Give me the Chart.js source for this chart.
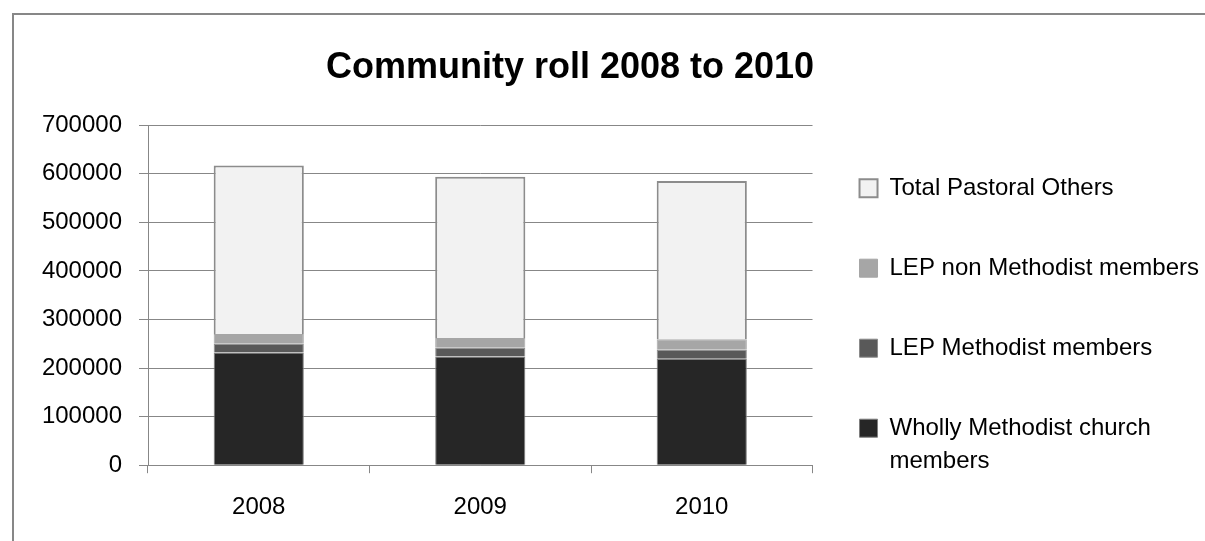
<!DOCTYPE html>
<html>
<head>
<meta charset="utf-8">
<script src="https://cdn.jsdelivr.net/npm/chart.js@4/dist/chart.umd.min.js"></script>
<style>
    html, body { margin: 0; padding: 0; background: #fff; overflow: hidden; }
    #frame {
        position: absolute; left: 12px; top: 13px; width: 1300px; height: 600px;
        border-left: 2px solid #878787; border-top: 2px solid #878787;
    }
    #wrap { position: absolute; left: -58px; top: 0; width: 1263px; height: 541px; }
</style>
</head>
<body>
<div id="frame"></div>
<div id="wrap"><canvas id="roll_chart"></canvas></div>
<script>
    // values
    var years = ["2008", "2009", "2010"];
    var wholly_methodist = [232000, 224000, 219000];
    var lep_methodist = [18000, 18000, 18500];
    var lep_non_methodist = [20000, 20000, 22000];
    var pastoral_others = [347000, 332000, 325500];

    var series_names = [
        ["Wholly Methodist church", "members"],
        ["LEP Methodist members"],
        ["LEP non Methodist members"],
        ["Total Pastoral Others"]
    ];
    var y_max = 700000;
    var y_step = 100000;

    var font_family = "'Liberation Sans', Arial, sans-serif";
    var axis_grey = "#878787";

    var ctx = document.getElementById('roll_chart').getContext('2d');
    var chart = new Chart(ctx, {
        type: 'bar',
        data: {
            labels: years,
            datasets: [
                { label: series_names[0], data: wholly_methodist, backgroundColor: "#262626", borderColor: "#7f7f7f", borderWidth: 1 },
                { label: series_names[1], data: lep_methodist, backgroundColor: "#595959", borderColor: "#8c8c8c", borderWidth: 1 },
                { label: series_names[2], data: lep_non_methodist, backgroundColor: "#a6a6a6", borderColor: "#a6a6a6", borderWidth: 1 },
                { label: series_names[3], data: pastoral_others, backgroundColor: "#f2f2f2", borderColor: "#8c8c8c", borderWidth: 2 }
            ]
        },
        options: {
            responsive: true,
            maintainAspectRatio: false,
            animation: false,
            layout: { padding: { left: -11, right: -4, top: 0, bottom: -1 } },
            datasets: {
                bar: { categoryPercentage: 1.0, barPercentage: 0.407 }
            },
            plugins: {
                title: {
                    display: true,
                    text: "Community roll 2008 to 2010",
                    color: "#000",
                    font: { family: font_family, size: 36, weight: 'bold' },
                    padding: { top: 46, bottom: 36 }
                },
                legend: {
                    position: 'right',
                    align: 'start',
                    reverse: true,
                    maxWidth: 420,
                    // empty title only used as a spacer above the items
                    title: { display: true, text: ' ', font: { size: 1 }, padding: { top: 128, bottom: 0 } },
                    labels: {
                        color: "#000",
                        font: { family: font_family, size: 24, lineHeight: '33px' },
                        boxWidth: 18,
                        boxHeight: 18,
                        padding: 47
                    }
                },
                tooltip: { enabled: false }
            },
            scales: {
                x: {
                    stacked: true,
                    grid: { drawOnChartArea: false, drawTicks: true, tickLength: 8, color: axis_grey },
                    border: { display: true, color: axis_grey, width: 1 },
                    ticks: { color: "#000", padding: 20, font: { family: font_family, size: 24 } }
                },
                y: {
                    stacked: true,
                    min: 0,
                    max: y_max,
                    afterFit: function (scale) {
                        scale.width = 217;
                    },
                    grid: { color: axis_grey, tickLength: 9, tickColor: axis_grey },
                    border: { display: true, color: axis_grey, width: 1 },
                    ticks: {
                        stepSize: y_step,
                        color: "#000",
                        padding: 17,
                        font: { family: font_family, size: 24 },
                        callback: function (value) { return String(value); }
                    }
                }
            }
        }
    });
</script>
</body>
</html>
